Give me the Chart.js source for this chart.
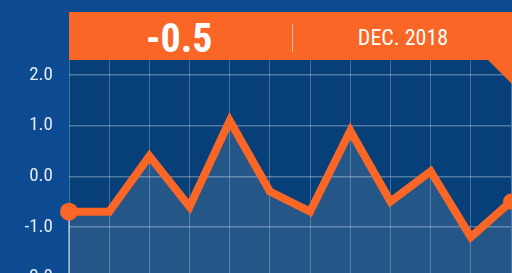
<!DOCTYPE html>
<html>
<head>
<meta charset="utf-8">
<script src="https://cdn.jsdelivr.net/npm/chart.js@4/dist/chart.umd.min.js"></script>
<style>
  html, body { margin:0; padding:0; width:512px; height:273px; overflow:hidden; background:#0c4a92; }
  #wrap { position:relative; width:520px; height:320px; }
  #banner {
    position:absolute; left:69px; top:12px; width:443px; height:72px;
    background:#f96625; color:#fff;
    clip-path: polygon(0 0, 443px 0, 443px 72px, 419px 48px, 0 48px);
    font-family:'Roboto Condensed','Liberation Sans Narrow','DejaVu Sans Condensed',Roboto,sans-serif;
  }
  #val { position:absolute; left:77px; width:64px; top:7px; text-align:center; font-size:40px; font-weight:700; line-height:40px; }
  #sep { position:absolute; left:223px; top:12px; width:1px; height:28px; background:rgba(255,255,255,.55); }
  #lbl { position:absolute; left:284px; width:100px; top:14px; text-align:center; font-size:22px; line-height:24px; }
</style>
</head>
<body>
<div id="wrap">
  <canvas id="c" width="520" height="320"></canvas>
  <div id="banner"><div id="val"></div><div id="sep"></div><div id="lbl"></div></div>
</div>
<script>
// data
const months = ['JAN. 2018','FEB. 2018','MAR. 2018','APR. 2018','MAY 2018','JUN. 2018',
                'JUL. 2018','AUG. 2018','SEP. 2018','OCT. 2018','NOV. 2018','DEC. 2018'];
const values = [-0.7, -0.7, 0.4, -0.6, 1.1, -0.3, -0.7, 0.9, -0.5, 0.1, -1.2, -0.5];
const yTicks = [2, 1, 0, -1, -2];

const ORANGE = '#f96625';
const AREA_BG = '#073f78';
const GRID = 'rgba(255,255,255,0.25)';

const last = values.length - 1;
document.getElementById('val').textContent = values[last].toFixed(1);
document.getElementById('lbl').textContent = months[last];

// фон области графика
const areaBg = {
  id: 'areaBg',
  beforeDraw(chart){
    const { ctx, chartArea:a } = chart;
    ctx.save();
    ctx.fillStyle = AREA_BG;
    ctx.fillRect(a.left, a.top, a.right - a.left, a.bottom - a.top);
    ctx.restore();
  }
};

// светлая кромка слева у заливки
const leftEdge = {
  id: 'leftEdge',
  beforeDatasetsDraw(chart){
    const p = chart.getDatasetMeta(0).data[0];
    const { ctx, chartArea:a } = chart;
    ctx.save();
    ctx.strokeStyle = 'rgba(255,255,255,0.45)';
    ctx.lineWidth = 2;
    ctx.beginPath();
    ctx.moveTo(p.x, p.y);
    ctx.lineTo(p.x, a.bottom);
    ctx.stroke();
    ctx.restore();
  }
};

new Chart(document.getElementById('c'), {
  type: 'line',
  data: {
    labels: months,
    datasets: [{
      data: values,
      borderColor: ORANGE,
      borderWidth: 8,
      borderJoinStyle: 'miter',
      tension: 0,
      fill: 'start',
      backgroundColor: 'rgba(255,255,255,0.12)',
      pointRadius: ctx => ctx.dataIndex === 0 ? 9 : (ctx.dataIndex === last ? 8 : 0),
      pointBackgroundColor: ORANGE,
      pointBorderWidth: 0,
      clip: false
    }]
  },
  options: {
    responsive: false,
    animation: false,
    layout: { padding: { top: 60, right: 8, bottom: 6, left: 0 } },
    plugins: { legend: { display: false }, tooltip: { enabled: false } },
    scales: {
      x: {
        offset: false,
        grid: { color: GRID, lineWidth: 1, drawTicks: false },
        border: { display: false },
        ticks: { display: false },
        afterFit(s){ s.height = 0; }
      },
      y: {
        min: -2.3, max: 2.3,
        afterBuildTicks(s){ s.ticks = yTicks.map(v => ({ value: v })); },
        afterFit(s){ s.width = 69; },
        grid: { color: 'rgba(255,255,255,0.3)', lineWidth: 1.5, drawTicks: false },
        border: { display: false },
        ticks: {
          padding: 16,
          color: '#e3e9f2',
          font: { family: "'Roboto Condensed','Liberation Sans Narrow','DejaVu Sans Condensed',Roboto,sans-serif", size: 19 },
          callback: v => Number(v).toFixed(1)
        }
      }
    }
  },
  plugins: [areaBg, leftEdge]
});
</script>
</body>
</html>
